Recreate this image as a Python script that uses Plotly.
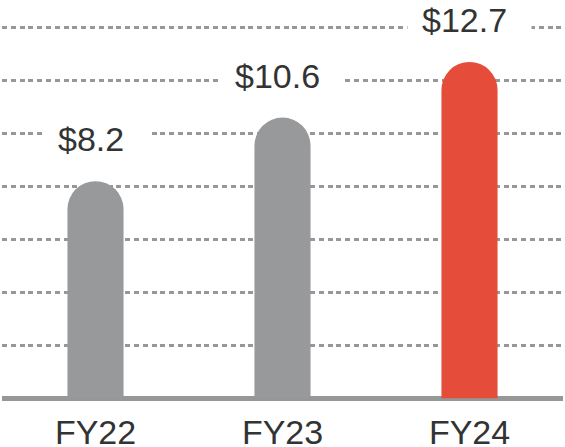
import plotly.graph_objects as go

categories = ["FY22", "FY23", "FY24"]
values = [8.2, 10.6, 12.7]
bar_colors = ["#98999b", "#98999b", "#e54d3a"]
value_labels = ["$8.2", "$10.6", "$12.7"]

FONT = "Liberation Sans, Arial, sans-serif"
TEXT = "#333333"
GRID = "#979797"

fig = go.Figure(
    go.Bar(
        x=categories,
        y=values,
        marker=dict(color=bar_colors, cornerradius="50%", line=dict(width=0)),
        hoverinfo="skip",
    )
)

for c, v, t in zip(categories, values, value_labels):
    fig.add_annotation(
        x=c, y=v, text=t + "\u00a0", showarrow=False,
        yanchor="middle", yshift=42,
        font=dict(family=FONT, size=34, color=TEXT),
        bgcolor="white", borderpad=14,
    )

fig.update_layout(
    width=565, height=447,
    margin=dict(l=2, r=2, t=0, b=46),
    paper_bgcolor="white", plot_bgcolor="white",
    bargap=0.7, showlegend=False,
    font=dict(family=FONT, color=TEXT),
)
fig.update_xaxes(
    range=[-0.5, 2.5], showgrid=False, showline=False, zeroline=False,
    tickfont=dict(family=FONT, size=34, color=TEXT),
    ticks="", ticklabelstandoff=8, automargin=False,
)
fig.update_yaxes(
    range=[-0.1, 15.04], dtick=2, tick0=0, automargin=False,
    showticklabels=False, showline=False,
    showgrid=True, gridcolor=GRID, gridwidth=2.5, griddash="5px,3.8px",
    zeroline=True, zerolinecolor=GRID, zerolinewidth=5,
)

fig.write_html(
    "out.html",
    config={"displayModeBar": False, "staticPlot": True},
    post_script="document.body.style.margin='0';document.body.style.overflow='hidden';",
)
